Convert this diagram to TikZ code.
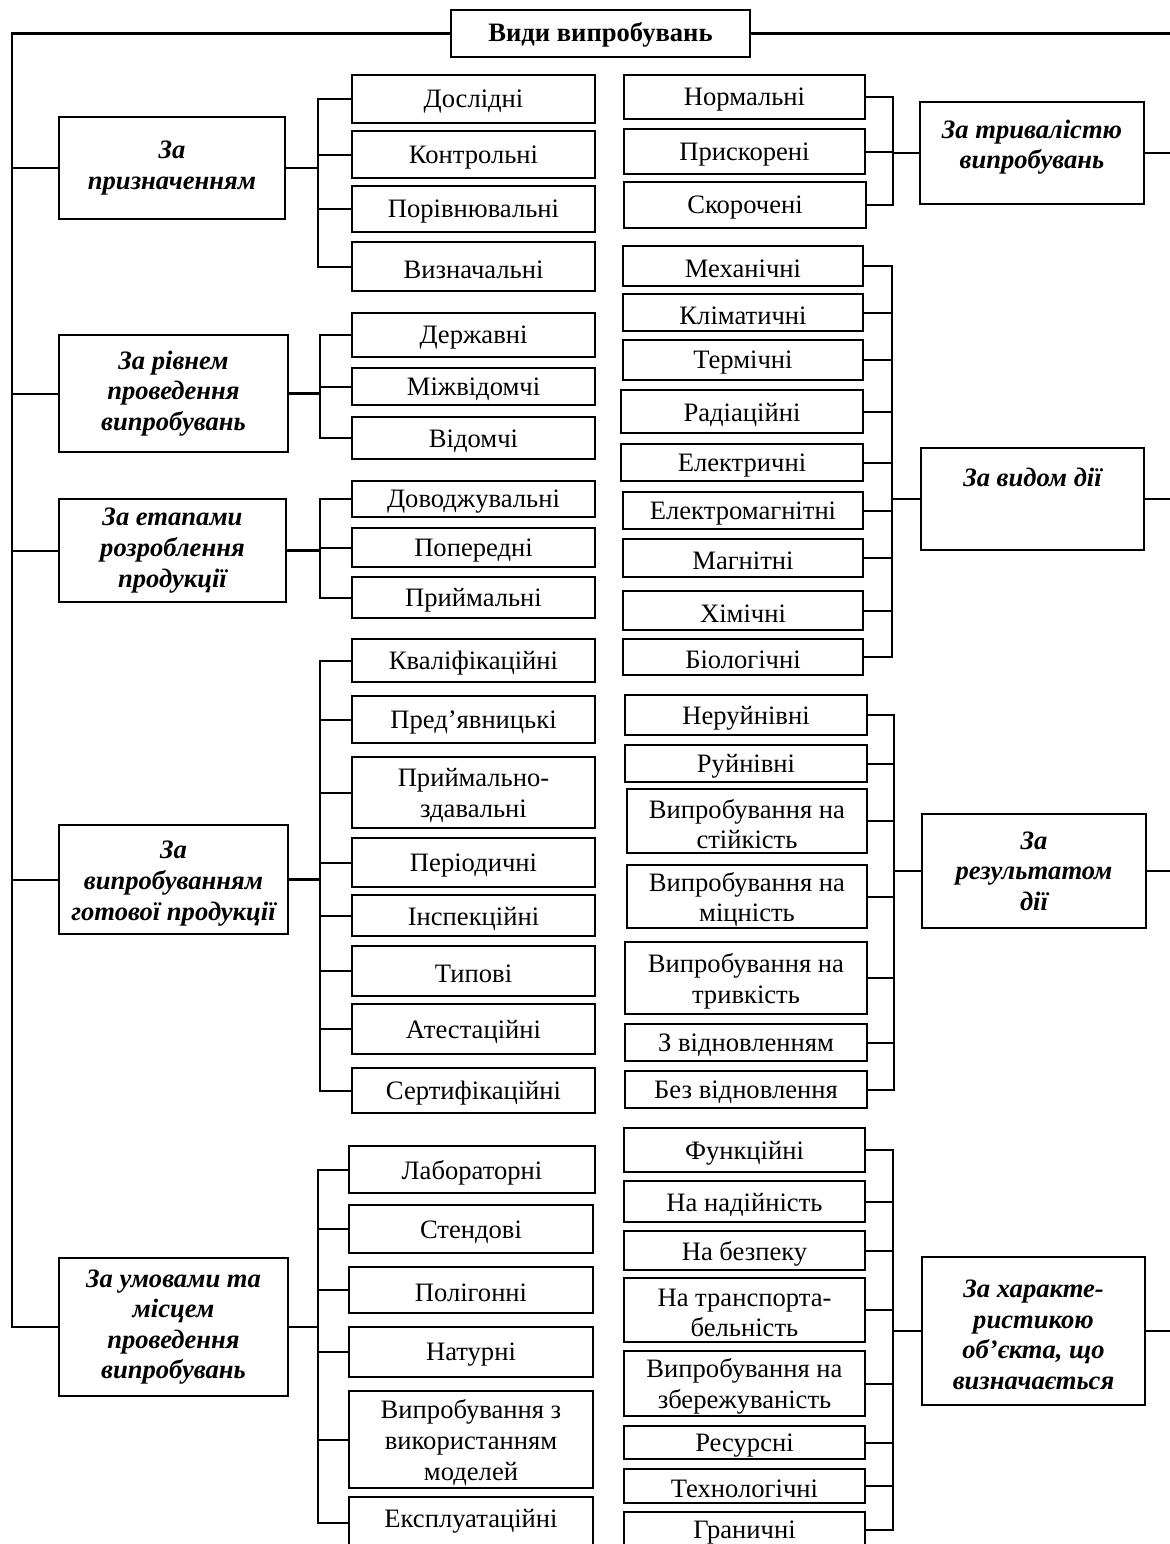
\documentclass[tikz,border=0pt]{standalone}
\usepackage{fontspec}
\setmainfont{Liberation Serif}
\usetikzlibrary{calc}
\tikzset{
  box/.style={draw, line width=1.1pt, inner sep=0pt, fill=white},
  txt/.style={align=center, inner sep=0pt, yshift=-1.5pt, font=\fontsize{13.3}{15.3}\selectfont},
  cat/.style={align=center, inner sep=0pt, font=\fontsize{13.3}{15.3}\selectfont\bfseries\itshape},
  ttl/.style={align=center, inner sep=0pt, yshift=-0.5pt, font=\fontsize{13.3}{15.3}\selectfont\bfseries},
  conn/.style={line width=1pt},
  trunk/.style={line width=1.3pt},
}
\newcommand\bx[8]{%
  \pgfmathsetmacro\bw{(#4-#2)*0.5}%
  \pgfmathsetmacro\bh{(#5-#3)*0.5}%
  \node[box, minimum width=\bw pt, minimum height=\bh pt] (#1) at ({(#2+#4)/2},{(#3+#5)/2}) {};
  \node[#6] (#1t) at ($(#1.center)+(0,#7)$) {#8};}
\begin{document}
\begin{tikzpicture}[x=0.5pt,y=-0.5pt]
\useasboundingbox (0,0) rectangle (1170,1544);
\clip (0,0) rectangle (1170,1544);
\fill[white] (0,0) rectangle (1170,1544);
% title
\bx{title}{451}{10}{750}{57}{ttl}{0}{Види випробувань}
% left categories
\bx{zp}{59}{117}{285}{219}{cat}{0}{За\\призначенням}
\bx{zr}{59}{335}{288}{452}{cat}{0}{За рівнем\\проведення\\випробувань}
\bx{ze}{59}{499}{286}{602}{cat}{0}{За етапами\\розроблення\\продукції}
\bx{zv}{59}{825}{288}{934}{cat}{4}{За\\випробуванням\\готової продукції}
\bx{zu}{59}{1258}{288}{1396}{cat}{0}{За умовами та\\місцем\\проведення\\випробувань}
% left children
\bx{zp1}{352}{75}{595}{123}{txt}{0}{Дослідні}
\bx{zp2}{352}{131}{595}{178}{txt}{0}{Контрольні}
\bx{zp3}{352}{186}{595}{232}{txt}{0}{Порівнювальні}
\bx{zp4}{352}{242}{595}{291}{txt}{0}{Визначальні}
\bx{zr1}{352}{313}{595}{357}{txt}{0}{Державні}
\bx{zr2}{352}{368}{595}{405}{txt}{0}{Міжвідомчі}
\bx{zr3}{352}{417}{595}{459}{txt}{0}{Відомчі}
\bx{ze1}{352}{481}{595}{517}{txt}{0}{Доводжувальні}
\bx{ze2}{352}{528}{595}{567}{txt}{0}{Попередні}
\bx{ze3}{352}{577}{595}{618}{txt}{0}{Приймальні}
\bx{zv1}{352}{639}{595}{682}{txt}{0}{Кваліфікаційні}
\bx{zv2}{352}{696}{595}{743}{txt}{0}{Пред’явницькі}
\bx{zv3}{352}{757}{595}{828}{txt}{0}{Приймально-\\здавальні}
\bx{zv4}{352}{838}{595}{887}{txt}{0}{Періодичні}
\bx{zv5}{352}{895}{595}{936}{txt}{0}{Інспекційні}
\bx{zv6}{352}{946}{595}{996}{txt}{0}{Типові}
\bx{zv7}{352}{1004}{595}{1054}{txt}{0}{Атестаційні}
\bx{zv8}{352}{1068}{595}{1113}{txt}{0}{Сертифікаційні}
\bx{zu1}{349}{1146}{595}{1193}{txt}{0}{Лабораторні}
\bx{zu2}{349}{1205}{593}{1253}{txt}{0}{Стендові}
\bx{zu3}{349}{1267}{593}{1313}{txt}{0}{Полігонні}
\bx{zu4}{349}{1327}{593}{1377}{txt}{0}{Натурні}
\bx{zu5}{349}{1391}{593}{1488}{txt}{0}{Випробування з\\використанням\\моделей}
\bx{zu6}{349}{1497}{593}{1549}{txt}{-5}{Експлуатаційні}
% right groups
\bx{zt1}{624}{75}{865}{119}{txt}{0}{Нормальні}
\bx{zt2}{624}{129}{865}{174}{txt}{0}{Прискорені}
\bx{zt3}{624}{182}{866}{228}{txt}{0}{Скорочені}
\bx{zt}{920}{102}{1144}{204}{cat}{-6}{За тривалістю\\випробувань}
\bx{zd1}{623}{246}{863}{286}{txt}{0}{Механічні}
\bx{zd2}{623}{294}{863}{331}{txt}{0}{Кліматичні}
\bx{zd3}{623}{340}{863}{380}{txt}{0}{Термічні}
\bx{zd4}{621}{390}{863}{433}{txt}{0}{Радіаційні}
\bx{zd5}{621}{444}{863}{481}{txt}{0}{Електричні}
\bx{zd6}{623}{492}{863}{529}{txt}{0}{Електромагнітні}
\bx{zd7}{623}{539}{863}{577}{txt}{0}{Магнітні}
\bx{zd8}{623}{591}{863}{630}{txt}{0}{Хімічні}
\bx{zd9}{623}{639}{863}{675}{txt}{0}{Біологічні}
\bx{zd}{921}{448}{1144}{550}{cat}{-22}{За видом дії}
\bx{zs1}{625}{695}{867}{735}{txt}{0}{Неруйнівні}
\bx{zs2}{625}{745}{867}{782}{txt}{0}{Руйнівні}
\bx{zs3}{627}{789}{867}{853}{txt}{0}{Випробування на\\стійкість}
\bx{zs4}{627}{865}{867}{928}{txt}{0}{Випробування на\\міцність}
\bx{zs5}{625}{942}{867}{1014}{txt}{0}{Випробування на\\тривкість}
\bx{zs6}{625}{1024}{867}{1061}{txt}{0}{З відновленням}
\bx{zs7}{625}{1071}{867}{1108}{txt}{0}{Без відновлення}
\bx{zs}{922}{814}{1146}{928}{cat}{0}{За\\результатом\\дії}
\bx{zx1}{624}{1128}{865}{1172}{txt}{0}{Функційні}
\bx{zx2}{624}{1181}{865}{1222}{txt}{0}{На надійність}
\bx{zx3}{624}{1231}{865}{1270}{txt}{0}{На безпеку}
\bx{zx4}{624}{1278}{865}{1342}{txt}{0}{На транспорта-\\бельність}
\bx{zx5}{624}{1351}{865}{1416}{txt}{0}{Випробування на\\збережуваність}
\bx{zx6}{624}{1426}{865}{1459}{txt}{0}{Ресурсні}
\bx{zx7}{624}{1469}{865}{1503}{txt}{0}{Технологічні}
\bx{zx8}{624}{1512}{865}{1548}{txt}{0}{Граничні}
\bx{zx}{922}{1257}{1145}{1405}{cat}{4}{За характе-\\ристикою\\об’єкта, що\\визначається}
% bracket coordinates
\coordinate (bzp) at (318,168);
\coordinate (bzr) at (320,393.5);
\coordinate (bze) at (320,550.5);
\coordinate (bzv) at (320,879.5);
\coordinate (bzu) at (318,1327);
\coordinate (bzt) at (893,153);
\coordinate (bzd) at (892,499);
\coordinate (bzs) at (894,871);
\coordinate (bzx) at (893,1331);
\coordinate (tl) at (12,33.5);
\coordinate (tr) at (1173,33.5);
% trunks
\draw[trunk] (title.west) -- (tl) -- (tl |- zu.west) -- (zu.west);
\foreach \c in {zp,zr,ze,zv} \draw[conn] (\c.west) -- (\c.west -| tl);
\draw[trunk] (title.east) -- (tr) -- (tr |- zx.east) -- (zx.east);
\foreach \c in {zt,zd,zs} \draw[conn] (\c.east) -- (\c.east -| tr);
% left brackets
\foreach \g/\n in {zp/4,zr/3,ze/3,zv/8,zu/6}{
  \draw[trunk] (\g.east) -- (b\g);
  \foreach \i in {1,...,\n} \draw[conn] (\g\i.west) -| (b\g);
}
% right brackets
\foreach \g/\n in {zt/3,zd/9,zs/7,zx/8}{
  \draw[trunk] (\g.west) -- (b\g);
  \foreach \i in {1,...,\n} \draw[conn] (\g\i.east) -| (b\g);
}
\end{tikzpicture}
\end{document}
